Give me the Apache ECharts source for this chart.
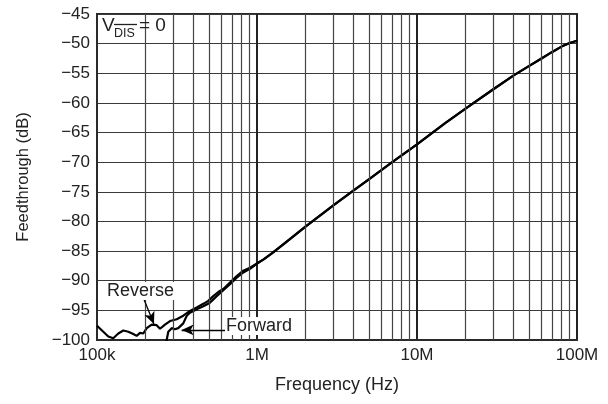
<!DOCTYPE html>
<html>
<head>
<meta charset="utf-8">
<script src="https://cdn.jsdelivr.net/npm/echarts@6/dist/echarts.min.js"></script>
<style>
html,body{margin:0;padding:0;background:#fff;}
#chart{width:608px;height:404px;}
</style>
</head>
<body>
<div id="chart"></div>
<script>
// ---- data ----
// Reverse (low-frequency noisy part)
const revFreq = [100e3, 109.5e3, 117.7e3, 126.4e3, 135.9e3, 146e3, 156.9e3, 168.6e3, 177e3, 185.7e3, 194.7e3, 204.5e3, 219.7e3, 236e3, 247.6e3, 266e3, 286e3, 315e3, 346e3, 381e3, 420e3, 462e3, 496e3, 533e3, 573e3, 616e3, 678e3, 747e3, 821e3, 904e3];
const revDb   = [-97.6, -98.6, -99.4, -99.7, -98.9, -98.4, -98.6, -99.0, -99.3, -98.8, -98.9, -98.0, -97.4, -97.5, -98.1, -97.4, -96.8, -96.5, -95.9, -95.1, -94.5, -93.9, -93.4, -92.6, -91.9, -91.4, -90.3, -89.2, -88.3, -87.8];
// Forward (low-frequency part, below -100 dB before ~270 kHz)
const fwdFreq = [268e3, 279e3, 293e3, 307e3, 322e3, 346e3, 364e3, 381e3, 420e3, 462e3, 508e3, 560e3, 616e3, 678e3, 747e3, 821e3, 904e3];
const fwdDb   = [-101.0, -98.6, -98.0, -98.2, -98.0, -97.2, -95.9, -95.4, -94.8, -94.3, -93.7, -92.6, -91.6, -90.6, -89.5, -88.6, -88.0];
// Common high-frequency part (both curves overlap)
const hiFreq = [1e6, 1.1e6, 1.25e6, 1.5e6, 2e6, 3e6, 4e6, 5e6, 7e6, 10e6, 15e6, 20e6, 30e6, 40e6, 50e6, 60e6, 70e6, 80e6, 90e6, 100e6];
const hiDb   = [-87.1, -86.4, -85.3, -83.6, -80.9, -77.3, -74.8, -72.9, -70.0, -67.0, -63.4, -61.0, -57.7, -55.4, -53.8, -52.5, -51.4, -50.5, -49.9, -49.5];

// axis ticks
const xTickValues = [1e5, 1e6, 1e7, 1e8];
const xTickLabels = ['100k', '1M', '10M', '100M'];
const yMin = -100, yMax = -45, yStep = 5;

// ---- build ----
function pairs(f, d) { return f.map((v, i) => [v, d[i]]); }
const reverseData = pairs(revFreq, revDb).concat(pairs(hiFreq, hiDb));
const forwardData = pairs(fwdFreq, fwdDb).concat(pairs(hiFreq, hiDb));

const minorLines = [];
for (let dec = 1e5; dec < 1e8; dec *= 10) {
  for (let m = 2; m <= 9; m++) minorLines.push({ xAxis: m * dec });
}

const FONT = '"Liberation Sans", Arial, Helvetica, sans-serif';
const chart = echarts.init(document.getElementById('chart'), null, { renderer: 'canvas' });

chart.setOption({
  animation: false,
  backgroundColor: '#fff',
  grid: { left: 97, right: 31, top: 14, bottom: 64, show: true, borderColor: '#2a2a2a', borderWidth: 2, backgroundColor: 'transparent' },
  xAxis: {
    type: 'log', logBase: 10, min: 1e5, max: 1e8,
    name: 'Frequency (Hz)', nameLocation: 'middle', nameGap: 36,
    nameTextStyle: { fontFamily: FONT, fontSize: 18, color: '#222' },
    axisLine: { show: true, lineStyle: { color: '#2a2a2a', width: 2 } },
    axisTick: { show: false },
    axisLabel: {
      fontFamily: FONT, fontSize: 17, color: '#222', margin: 7,
      formatter: v => { const i = xTickValues.findIndex(t => Math.abs(Math.log10(t) - Math.log10(v)) < 1e-6); return i >= 0 ? xTickLabels[i] : ''; }
    },
    splitLine: { show: true, lineStyle: { color: '#222', width: 2 } },
    minorTick: { show: false }, minorSplitLine: { show: false }
  },
  yAxis: {
    type: 'value', min: yMin, max: yMax, interval: yStep,
    name: 'Feedthrough (dB)', nameLocation: 'middle', nameGap: 65,
    nameTextStyle: { fontFamily: FONT, fontSize: 16.5, color: '#222' },
    axisLine: { show: true, lineStyle: { color: '#2a2a2a', width: 2 } },
    axisTick: { show: false },
    axisLabel: { fontFamily: FONT, fontSize: 17, color: '#222', margin: 7, formatter: v => String(v).replace('-', '\u2212') },
    splitLine: { show: true, lineStyle: { color: '#3a3a3a', width: 1.2 } }
  },
  series: [
    {
      name: 'grid-minor', type: 'line', data: [], silent: true, z: 1,
      markLine: {
        silent: true, symbol: ['none', 'none'], animation: false,
        label: { show: false },
        lineStyle: { color: '#444', width: 1.2, type: 'solid' },
        data: minorLines
      }
    },
    {
      name: 'Reverse', type: 'line', data: reverseData, showSymbol: false, symbol: 'none',
      lineStyle: { color: '#000', width: 2.2 }, z: 3, clip: true
    },
    {
      name: 'Forward', type: 'line', data: forwardData, showSymbol: false, symbol: 'none',
      lineStyle: { color: '#000', width: 2.2 }, z: 3, clip: true,
      markLine: {
        silent: true, animation: false, symbol: ['none', 'arrow'], symbolSize: [8, 12],
        label: { show: false },
        lineStyle: { color: '#000', width: 1.3, type: 'solid' },
        data: [
          [{ coord: [631e3, -98.3] }, { coord: [338e3, -98.3] }],
          [{ coord: [197e3, -93.2] }, { coord: [227e3, -97.3] }]
        ]
      }
    }
  ],
  graphic: [
    { type: 'text', left: 106, top: 282, z: 10, style: { text: 'Reverse', font: '18px ' + FONT, fill: '#222', backgroundColor: '#fff', padding: [0, 1] } },
    { type: 'text', left: 225, top: 317, z: 10, style: { text: 'Forward', font: '18px ' + FONT, fill: '#222', backgroundColor: '#fff', padding: [0, 1] } },
    { type: 'text', left: 102, top: 16, z: 10, style: { text: 'V', font: '19px ' + FONT, fill: '#222' } },
    { type: 'text', left: 114, top: 27, z: 10, style: { text: 'DIS', font: '12.5px ' + FONT, fill: '#222' } },
    { type: 'line', z: 10, shape: { x1: 114, y1: 24.5, x2: 137, y2: 24.5 }, style: { stroke: '#222', lineWidth: 1.3 } },
    { type: 'text', left: 139, top: 16, z: 10, style: { text: '= 0', font: '19px ' + FONT, fill: '#222' } }
  ]
});
</script>
</body>
</html>
